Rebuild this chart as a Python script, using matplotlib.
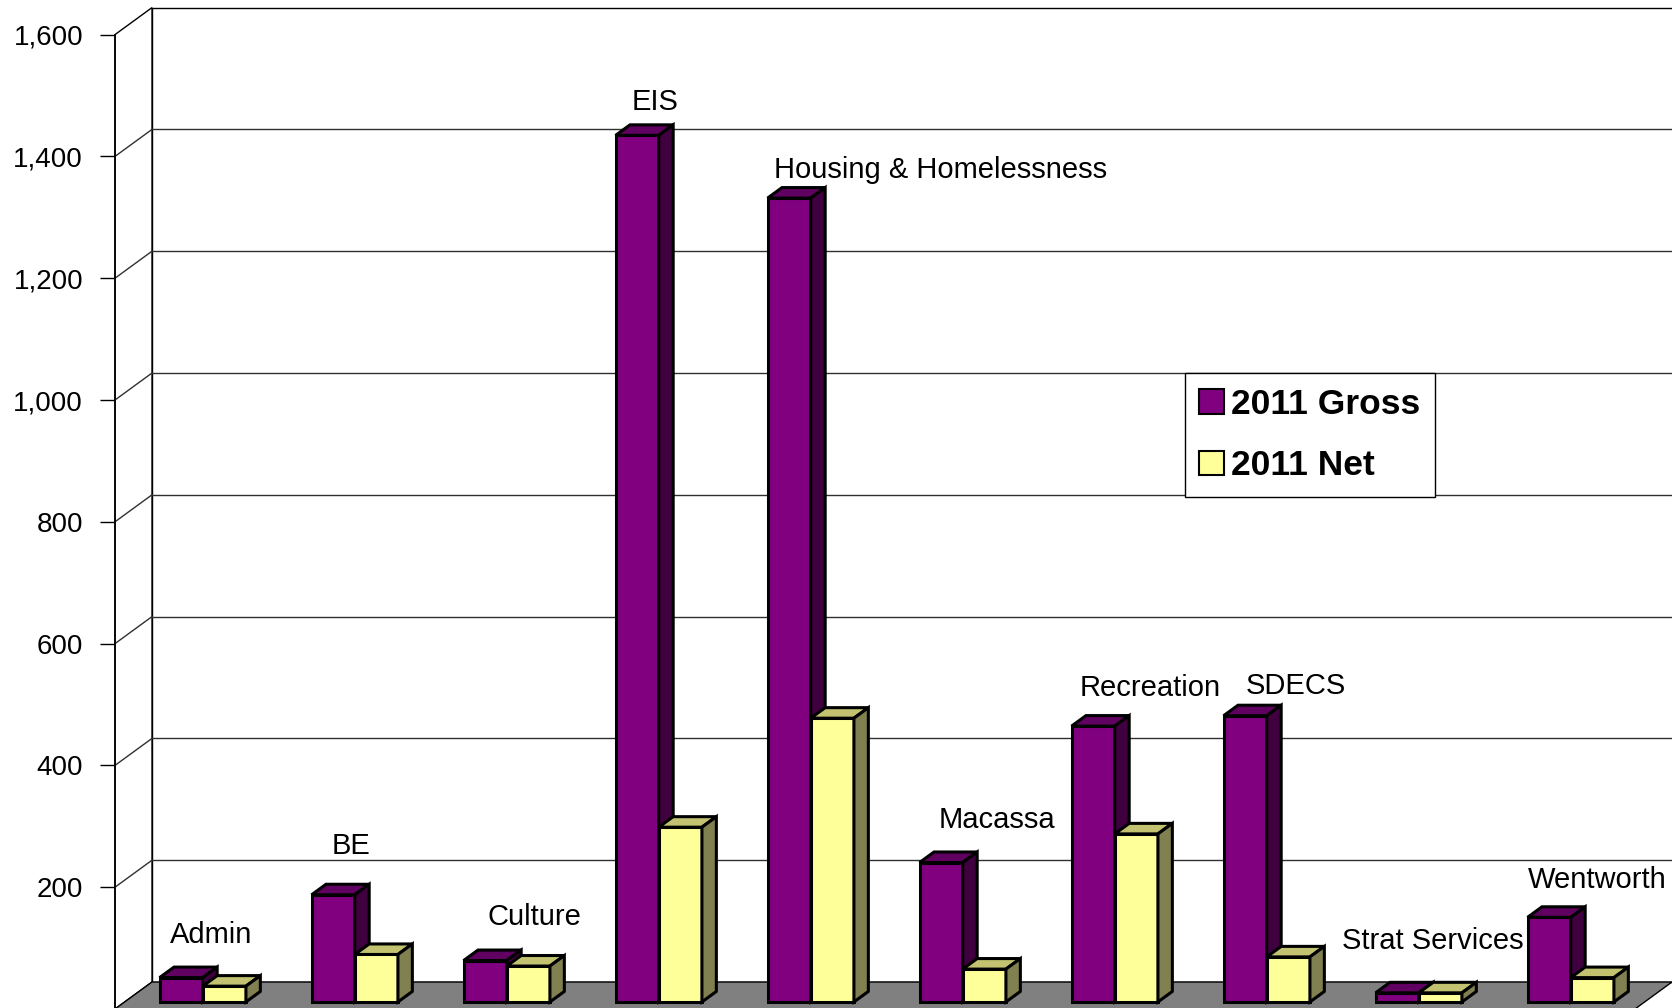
import numpy as np
import matplotlib
matplotlib.use("Agg")
import matplotlib.pyplot as plt
from matplotlib.patches import Polygon, Patch
from matplotlib.ticker import FuncFormatter

plt.rcParams['font.family'] = ['Liberation Sans', 'DejaVu Sans']

# data (thousands)
categories = ["Admin", "BE", "Culture", "EIS", "Housing & Homelessness",
              "Macassa", "Recreation", "SDECS", "Strat Services", "Wentworth"]
gross_2011 = [40, 176, 68, 1423, 1320, 229, 453, 470, 15, 139]
net_2011 = [26, 78, 59, 287, 466, 54, 276, 74, 15, 40]
series_names = ["2011 Gross", "2011 Net"]
yticks = [200, 400, 600, 800, 1000, 1200, 1400, 1600]

# hand-placed category labels (x offset in category units, y in value units)
label_pos = [(0.63, 121), (0.55, 267), (0.76, 151), (0.55, 1490), (1.43, 1378),
             (0.80, 311), (0.81, 527), (0.77, 531), (0.67, 111), (0.75, 212)]

# fake 3d geometry
DX = 37 / 152.0      # depth shift in category units
DV = 27 / 0.609      # depth shift in value units
f0, f1 = 0.26, 0.65  # bar depth range
bw = 0.284
x_off = 0.23
ymax = 1600

face_cols = [("#800080", "#600060", "#400040"),
             ("#FFFF99", "#C2C270", "#808050")]

fig = plt.figure(figsize=(16.72, 10.08), dpi=100)
ax = fig.add_axes([0, 0, 1, 1])
ax.set_xlim((0 - 115) / 152.0, (1672 - 115) / 152.0)
ax.set_ylim((1009 - 1008) / 0.609, 1009 / 0.609)

n = len(categories)

# walls and floor
back = Polygon([(DX, DV), (n + DX + 2, DV), (n + DX + 2, ymax + DV), (DX, ymax + DV)],
               closed=True, facecolor="white", edgecolor="black", lw=1.0, zorder=1)
side = Polygon([(0, 0), (DX, DV), (DX, ymax + DV), (0, ymax)],
               closed=True, facecolor="white", edgecolor="black", lw=1.0, zorder=1)
ax.add_patch(back)
ax.add_patch(side)
for v in yticks[:-1]:
    ax.plot([DX, n + DX + 2], [v + DV, v + DV], color="#303030", lw=1.0, zorder=2)
    ax.plot([0, DX], [v, v + DV], color="#303030", lw=1.0, zorder=2)
floor = Polygon([(0, 0), (n, 0), (n + DX, DV), (DX, DV)],
                closed=True, facecolor="#808080", edgecolor="black", lw=1.0, zorder=3)
ax.add_patch(floor)


def draw_bar(x0, v, cols):
    x1 = x0 + bw
    a, b = f0, f1
    front = [(x0 + a * DX, a * DV), (x1 + a * DX, a * DV),
             (x1 + a * DX, v + a * DV), (x0 + a * DX, v + a * DV)]
    top = [(x0 + a * DX, v + a * DV), (x1 + a * DX, v + a * DV),
           (x1 + b * DX, v + b * DV), (x0 + b * DX, v + b * DV)]
    right = [(x1 + a * DX, a * DV), (x1 + b * DX, b * DV),
             (x1 + b * DX, v + b * DV), (x1 + a * DX, v + a * DV)]
    for pts, c in [(front, cols[0]), (top, cols[1]), (right, cols[2])]:
        ax.add_patch(Polygon(pts, closed=True, facecolor=c, edgecolor="black",
                             lw=2.2, joinstyle="miter", zorder=4))


for k in range(n):
    draw_bar(k + x_off, gross_2011[k], face_cols[0])
    draw_bar(k + x_off + bw, net_2011[k], face_cols[1])
    lx, lv = label_pos[k]
    ax.text(k + lx, lv, categories[k], ha="center", va="center",
            fontsize=21, zorder=6)

# value axis on the front edge
for s in ["top", "right", "bottom"]:
    ax.spines[s].set_visible(False)
ax.spines["left"].set_position(("data", 0))
ax.spines["left"].set_bounds(0, ymax)
ax.spines["left"].set_linewidth(1.2)
ax.spines["left"].set_zorder(5)
ax.set_yticks(yticks)
ax.yaxis.set_major_formatter(FuncFormatter(lambda v, p: f"{int(v):,}"))
ax.tick_params(axis="y", direction="out", length=11, width=1.0, pad=12,
               labelsize=20)
ax.set_xticks([])

handles = [Patch(facecolor=face_cols[i][0], edgecolor="black", lw=1.5)
           for i in range(2)]
leg = ax.legend(handles, series_names, loc="center",
                bbox_to_anchor=(1310 / 1672, 1 - 435 / 1008),
                prop={"weight": "bold", "size": 25.5}, frameon=True,
                fancybox=False, edgecolor="black", framealpha=1,
                handlelength=0.68, handleheight=0.68, handletextpad=0.22,
                labelspacing=0.8, borderpad=0.42)
leg.get_frame().set_linewidth(1.0)
leg.set_zorder(7)

fig.savefig("out.png", dpi=100)
